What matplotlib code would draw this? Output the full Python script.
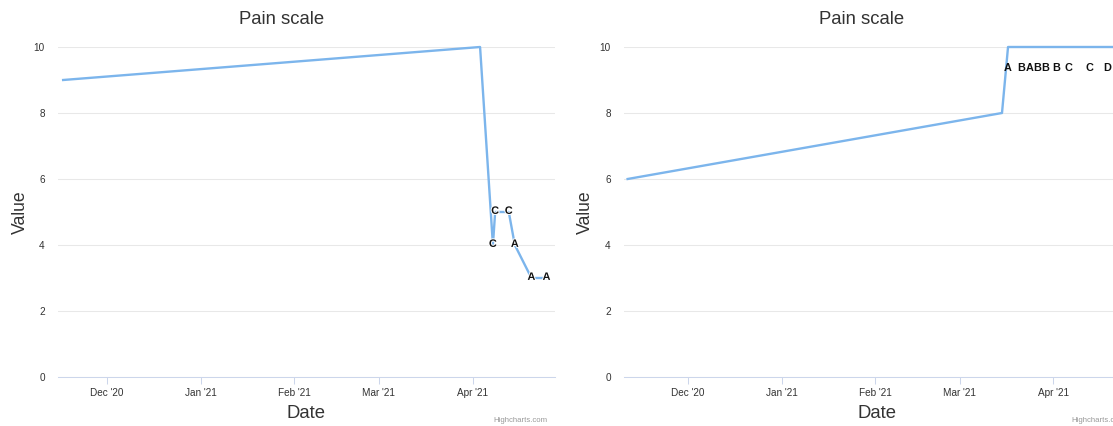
import matplotlib
matplotlib.use('Agg')
import matplotlib.pyplot as plt
import matplotlib.dates as mdates
import matplotlib.patheffects as pe
import pandas as pd

plt.rcParams['font.family'] = ['Liberation Sans', 'DejaVu Sans']

# Left chart data
left_dates = pd.to_datetime(['2020-11-16 12:00', '2021-04-03 12:00', '2021-04-07 18:00', '2021-04-08 12:00',
                             '2021-04-13 00:00', '2021-04-15 00:00', '2021-04-20 12:00', '2021-04-25 12:00'])
left_values = [9, 10, 4, 5, 5, 4, 3, 3]
left_labels = ['', '', 'C', 'C', 'C', 'A', 'A', 'A']

# Right chart data
right_dates = pd.to_datetime(['2020-11-11 00:00', '2021-03-15 00:00', '2021-03-17 00:00', '2021-03-21 12:00',
                              '2021-03-24 06:00', '2021-03-26 18:00', '2021-03-29 06:00', '2021-04-02 00:00',
                              '2021-04-06 00:00', '2021-04-13 00:00', '2021-04-19 00:00', '2021-04-22 00:00'])
right_values = [6, 8, 10, 10, 10, 10, 10, 10, 10, 10, 10, 10]
right_labels = ['', '', 'A', 'B', 'A', 'B', 'B', 'B', 'C', 'C', 'D', 'D']

W, H = 1113, 426
dec1 = pd.Timestamp('2020-12-01')


def box(left, right, top, bottom):
    return [left / W, 1 - bottom / H, (right - left) / W, (bottom - top) / H]


def draw_panel(ax, dates, values, labels, xmin, xmax, top_dy, ylab_x):
    ax.plot(dates, values, color='#7cb5ec', lw=1.7, clip_on=False, zorder=3)
    for d, v, t in zip(dates, values, labels):
        if not t:
            continue
        if v >= 10:
            dy, fx = top_dy, []
        else:
            dy, fx = 0.8, [pe.withStroke(linewidth=1.4, foreground='white')]
        ax.annotate(t, (d, v), xytext=(0, dy), textcoords='offset points',
                    ha='center', va='center', fontsize=7.8, fontweight='bold', color='#111111',
                    path_effects=fx, zorder=4, annotation_clip=False)
    ax.set_xlim(xmin, xmax)
    ax.set_ylim(0, 10)
    ax.set_yticks(range(0, 11, 2))
    ax.grid(axis='y', color='#e8e8e8', lw=0.75)
    ax.set_axisbelow(True)
    for s in ['top', 'right', 'left']:
        ax.spines[s].set_visible(False)
    ax.spines['bottom'].set_color('#ccd6eb')
    ax.spines['bottom'].set_linewidth(0.75)
    ax.xaxis.set_major_locator(mdates.MonthLocator())
    ax.xaxis.set_major_formatter(mdates.DateFormatter("%b '%y"))
    ax.tick_params(axis='x', length=5, width=0.75, color='#ccd6eb', labelsize=7.2,
                   labelcolor='#333333', pad=3)
    ax.tick_params(axis='y', length=0, labelsize=7.2, labelcolor='#333333', pad=9.5)
    ax.set_xlabel('Date', fontsize=13.3, color='#333333', va='center')
    ax.xaxis.set_label_coords(0.5, -36 / 330)
    ax.set_ylabel('Value', fontsize=12.7, color='#333333', va='center')
    ax.yaxis.set_label_coords(ylab_x, 0.5)


fig = plt.figure(figsize=(W / 100, H / 100), dpi=100)

ax1 = fig.add_axes(box(58, 555, 47, 377))
draw_panel(ax1, left_dates, left_values, left_labels,
           dec1 - pd.Timedelta(days=16.2), dec1 + pd.Timedelta(days=148.3), 0, -38 / 497)

ax2 = fig.add_axes(box(624, 1130, 47, 377))
draw_panel(ax2, right_dates, right_values, right_labels,
           dec1 - pd.Timedelta(days=21.2), dec1 + pd.Timedelta(days=146.4), -15, -39 / 506)

# titles and credits
fig.text(282 / W, 1 - 20 / H, 'Pain scale', ha='center', va='center', fontsize=13.3, color='#333333')
fig.text(862 / W, 1 - 20 / H, 'Pain scale', ha='center', va='center', fontsize=13.3, color='#333333')
fig.text(548 / W, 1 - 421 / H, 'Highcharts.com', ha='right', va='center', fontsize=5.6, color='#999999')
fig.text(1125 / W, 1 - 421 / H, 'Highcharts.com', ha='right', va='center', fontsize=5.6, color='#999999')

fig.savefig('out.png', dpi=100)
